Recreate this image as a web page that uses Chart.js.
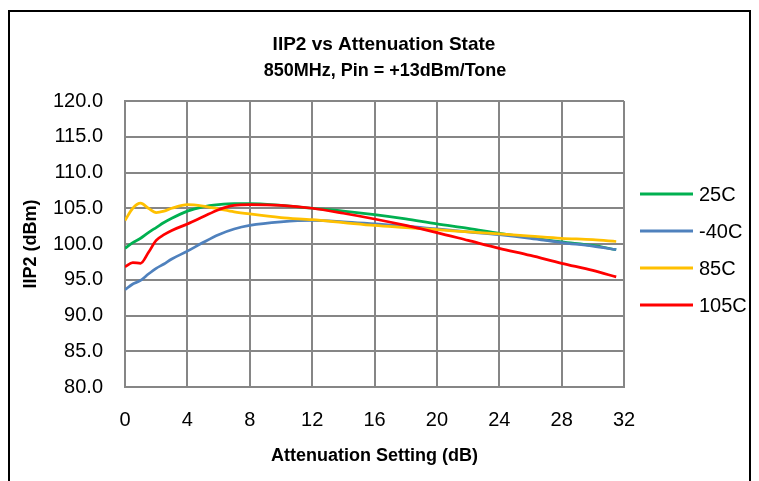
<!DOCTYPE html>
<html>
<head>
<meta charset="utf-8">
<script src="https://cdn.jsdelivr.net/npm/chart.js@4.4.1/dist/chart.umd.min.js"></script>
<style>
html,body{margin:0;padding:0;background:#fff;}
</style>
</head>
<body>
<canvas id="chart" width="759" height="481"></canvas>
<script>
// attenuation setting (dB) where values were read
const attenuation=[0,0.5,1,1.5,2,2.5,3,4,5,6,7,8,10,12,14,16,18,20,22,24,26,28,30,31.5];

const iip2_25C =[99.4,100.2,100.8,101.6,102.3,103.0,103.6,104.6,105.2,105.5,105.65,105.65,105.4,105.0,104.6,104.1,103.5,102.8,102.2,101.5,100.9,100.3,99.8,99.2];
const iip2_m40C=[93.6,94.4,94.9,95.8,96.6,97.2,97.9,99.0,100.2,101.3,102.1,102.6,103.1,103.3,103.1,102.8,102.5,102.1,101.7,101.3,100.8,100.2,99.7,99.2];
const iip2_85C =[103.3,105.0,105.7,105.0,104.4,104.6,105.0,105.5,105.3,104.9,104.5,104.2,103.7,103.4,103.0,102.6,102.3,102.0,101.7,101.4,101.1,100.8,100.6,100.35];
const iip2_105C=[96.8,97.4,97.3,98.8,100.5,101.3,101.9,102.8,103.8,104.8,105.4,105.5,105.4,105.0,104.3,103.5,102.6,101.6,100.5,99.4,98.4,97.3,96.3,95.4];

const seriesNames=["25C","-40C","85C","105C"];
const seriesColors=["#00B050","#4F81BD","#FFC000","#FF0000"];
const seriesValues=[iip2_25C,iip2_m40C,iip2_85C,iip2_105C];

const xTicks=[0,4,8,12,16,20,24,28,32];
const yMin=80, yMax=120, yStep=5;

const fontName="'Liberation Sans', Arial, sans-serif";
const gridColor="#868686";

function toPoints(vals){
    return vals.map(function(v,i){ return {x:attenuation[i],y:v}; });
}

let datasets=seriesNames.map(function(name,i){
    return {
        label:name,
        data:toPoints(seriesValues[i]),
        borderColor:seriesColors[i],
        borderWidth:2.75,
        pointRadius:0,
        fill:false,
        cubicInterpolationMode:'monotone',
        order:seriesNames.length-i
    };
});

// titles, legend and outer frame
const extras={
    id:'extras',
    afterDraw(chart){
        let ctx=chart.ctx;
        let area=chart.chartArea;
        ctx.save();
        ctx.fillStyle="#000";
        ctx.textAlign="center";
        ctx.textBaseline="middle";
        ctx.font="bold 19px "+fontName;
        ctx.fillText("IIP2 vs Attenuation State",384,45);
        ctx.font="bold 18px "+fontName;
        ctx.fillText("850MHz, Pin = +13dBm/Tone",385,71);

        ctx.font="bold 18px "+fontName;
        ctx.fillText("Attenuation Setting (dB)",(area.left+area.right)/2,456);
        ctx.save();
        ctx.translate(31,(area.top+area.bottom)/2);
        ctx.rotate(-Math.PI/2);
        ctx.fillText("IIP2 (dBm)",0,0);
        ctx.restore();

        ctx.textAlign="left";
        ctx.font="20px "+fontName;
        chart.data.datasets.forEach(function(ds,i){
            let y=194+37*i;
            ctx.strokeStyle=ds.borderColor;
            ctx.lineWidth=3;
            ctx.beginPath();
            ctx.moveTo(640,y);
            ctx.lineTo(693,y);
            ctx.stroke();
            ctx.fillText(ds.label,699,y+1);
        });

        ctx.strokeStyle="#000";
        ctx.lineWidth=2;
        ctx.strokeRect(9,11,741,500);
        ctx.restore();
    }
};

new Chart(document.getElementById("chart"),{
    type:'line',
    data:{datasets:datasets},
    options:{
        responsive:false,
        animation:false,
        layout:{padding:{left:0,top:101,right:135,bottom:0}},
        plugins:{legend:{display:false},title:{display:false},tooltip:{enabled:false}},
        scales:{
            x:{
                type:'linear',
                min:xTicks[0],
                max:xTicks[xTicks.length-1],
                afterFit(scale){ scale.height=94; },
                afterBuildTicks(scale){ scale.ticks=xTicks.map(function(v){return {value:v};}); },
                ticks:{color:"#000",font:{family:fontName,size:20},padding:21,maxRotation:0},
                grid:{color:gridColor,lineWidth:2,drawTicks:false},
                border:{color:gridColor,width:2}
            },
            y:{
                min:yMin,
                max:yMax,
                afterFit(scale){ scale.width=125; },
                ticks:{stepSize:yStep,color:"#000",font:{family:fontName,size:20},padding:22,
                    callback:function(v){return v.toFixed(1);}},
                grid:{color:gridColor,lineWidth:2,drawTicks:false},
                border:{color:gridColor,width:2}
            }
        }
    },
    plugins:[extras]
});
</script>
</body>
</html>
